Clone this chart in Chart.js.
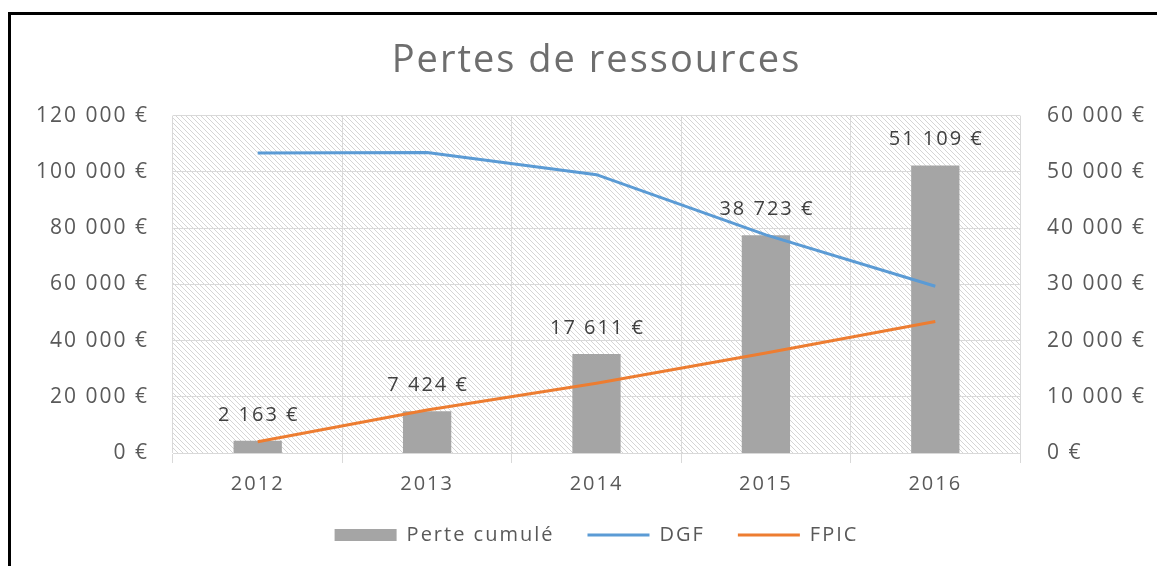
<!DOCTYPE html>
<html>
<head>
<meta charset="utf-8">
<title>Pertes de ressources</title>
<script src="https://cdn.jsdelivr.net/npm/chart.js@4.4.0/dist/chart.umd.min.js"></script>
<style>
    html, body { margin: 0; padding: 0; background: #fff; }
    #frame {
        position: absolute; left: 8px; top: 12px; width: 1149px; height: 554px;
        border-left: 3px solid #000; border-top: 3px solid #000;
    }
    #wrap { position: absolute; left: 0; top: 0; width: 1157px; height: 566px; }
</style>
</head>
<body>
<div id="frame"></div>
<div id="wrap"><canvas id="chart"></canvas></div>
<script>
// values
var years = ["2012", "2013", "2014", "2015", "2016"];
var perteCumule = [2163, 7424, 17611, 38723, 51109];
var dgf = [106700, 106900, 99000, 77600, 59300];
var fpic = [4000, 15300, 24800, 35600, 46800];

var leftTicks = [0, 20000, 40000, 60000, 80000, 100000, 120000];
var rightTicks = [0, 10000, 20000, 30000, 40000, 50000, 60000];

var fontFamily = "'Open Sans', 'Liberation Sans', sans-serif";
var textColor = "#595959";
var gridColor = "#d9d9d9";
// the original text is wide, so open it up a little
var spacing = "2px";

function euro(v) {
    return String(v).replace(/\B(?=(\d{3})+(?!\d))/g, " ") + " €";
}

// diagonal hatching behind the plot
function makeHatch(ctx) {
    var s = 5;
    var c = document.createElement("canvas");
    c.width = s;
    c.height = s;
    var p = c.getContext("2d");
    p.fillStyle = "#ffffff";
    p.fillRect(0, 0, s, s);
    p.strokeStyle = "rgba(150,150,150,0.4)";
    p.lineWidth = 1;
    p.beginPath();
    p.moveTo(-1, -1);
    p.lineTo(s + 1, s + 1);
    p.moveTo(-1, s - 1);
    p.lineTo(1, s + 1);
    p.moveTo(s - 1, -1);
    p.lineTo(s + 1, 1);
    p.stroke();
    return ctx.createPattern(c, "repeat");
}

var spacingPlugin = {
    id: "letterSpacing",
    beforeUpdate: function(chart) { chart.ctx.letterSpacing = spacing; },
    beforeLayout: function(chart) { chart.ctx.letterSpacing = spacing; },
    beforeDraw: function(chart) { chart.ctx.letterSpacing = spacing; }
};

var hatchPlugin = {
    id: "hatch",
    beforeDraw: function(chart) {
        var a = chart.chartArea;
        var ctx = chart.ctx;
        ctx.save();
        ctx.fillStyle = makeHatch(ctx);
        ctx.fillRect(a.left, a.top, a.right - a.left, a.bottom - a.top);
        ctx.restore();
    }
};

// value labels above the bars
var barLabelPlugin = {
    id: "barLabels",
    afterDatasetsDraw: function(chart) {
        var ctx = chart.ctx;
        var meta = chart.getDatasetMeta(0);
        ctx.save();
        ctx.font = "20px " + fontFamily;
        ctx.fillStyle = "#404040";
        ctx.textAlign = "center";
        ctx.textBaseline = "middle";
        meta.data.forEach(function(bar, i) {
            ctx.fillText(euro(perteCumule[i]), bar.x + 1, bar.y - 26);
        });
        ctx.restore();
    }
};

new Chart(document.getElementById("chart"), {
    type: "bar",
    data: {
        labels: years,
        datasets: [
            {
                type: "bar",
                label: "Perte cumulé",
                data: perteCumule,
                yAxisID: "y1",
                backgroundColor: "#a5a5a5",
                borderWidth: 0,
                barPercentage: 0.285,
                categoryPercentage: 1,
                pointStyle: "rect",
                order: 3
            },
            {
                type: "line",
                label: "DGF",
                data: dgf,
                yAxisID: "y",
                borderColor: "#5b9bd5",
                backgroundColor: "#5b9bd5",
                borderWidth: 3,
                pointRadius: 0,
                pointStyle: "line",
                tension: 0,
                order: 1
            },
            {
                type: "line",
                label: "FPIC",
                data: fpic,
                yAxisID: "y",
                borderColor: "#ed7d31",
                backgroundColor: "#ed7d31",
                borderWidth: 3,
                pointRadius: 0,
                pointStyle: "line",
                tension: 0,
                order: 2
            }
        ]
    },
    options: {
        responsive: true,
        maintainAspectRatio: false,
        animation: false,
        layout: {
            padding: { top: 14, left: 36, right: 0, bottom: 11 }
        },
        plugins: {
            title: {
                display: true,
                text: "Pertes de ressources",
                color: "#6e6e6e",
                font: { family: fontFamily, size: 38, weight: "normal" },
                padding: { top: 24, bottom: 32 }
            },
            legend: {
                position: "bottom",
                labels: {
                    usePointStyle: true,
                    pointStyleWidth: 62,
                    boxHeight: 12,
                    padding: 33,
                    color: textColor,
                    font: { family: fontFamily, size: 20 },
                    sort: function(a, b) { return a.datasetIndex - b.datasetIndex; }
                }
            },
            tooltip: { enabled: false }
        },
        scales: {
            x: {
                grid: { color: gridColor, offset: true, tickLength: 10 },
                border: { color: gridColor },
                ticks: {
                    color: textColor,
                    padding: 9,
                    font: { family: fontFamily, size: 20 }
                },
                afterFit: function(scale) { scale.height = 39; }
            },
            y: {
                position: "left",
                min: 0,
                max: 120000,
                afterBuildTicks: function(scale) {
                    scale.ticks = leftTicks.map(function(v) { return { value: v }; });
                },
                grid: { color: gridColor, drawTicks: false },
                border: { display: false },
                ticks: {
                    color: textColor,
                    padding: 24,
                    font: { family: fontFamily, size: 21 },
                    callback: function(v) { return euro(v); }
                },
                afterFit: function(scale) { scale.width = 137; }
            },
            y1: {
                position: "right",
                min: 0,
                max: 60000,
                afterBuildTicks: function(scale) {
                    scale.ticks = rightTicks.map(function(v) { return { value: v }; });
                },
                grid: { display: false, drawTicks: false },
                border: { display: false },
                ticks: {
                    color: textColor,
                    padding: 27,
                    font: { family: fontFamily, size: 21 },
                    callback: function(v) { return euro(v); }
                },
                afterFit: function(scale) { scale.width = 137; }
            }
        }
    },
    plugins: [spacingPlugin, hatchPlugin, barLabelPlugin]
});
</script>
</body>
</html>
